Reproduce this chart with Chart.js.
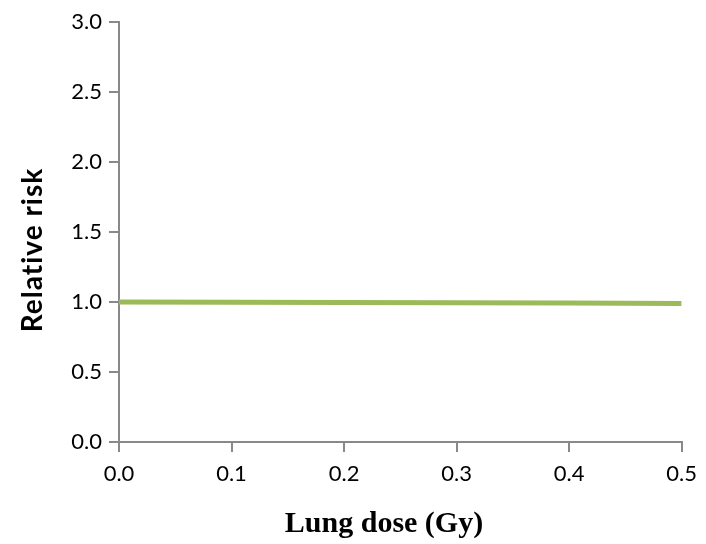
<!DOCTYPE html>
<html><head><meta charset="utf-8">
<script src="https://cdn.jsdelivr.net/npm/chart.js@4/dist/chart.umd.min.js"></script>
<style>html,body{margin:0;padding:0;background:#fff}#wrap{width:706px;height:544px}</style>
</head><body><div id="wrap"><canvas id="c" width="706" height="544"></canvas></div>
<script>
const doses = [0.0, 0.1, 0.2, 0.3, 0.4, 0.5];
const relativeRisk = [1.0, 0.998, 0.996, 0.994, 0.992, 0.99];
const xTitle = 'Lung dose (Gy)';
const yTitle = 'Relative risk';

const axisGray = '#898989';

const titlesPlugin = {
  id: 'titles',
  afterDraw(chart) {
    const ctx = chart.ctx;
    ctx.save();
    ctx.fillStyle = '#000';
    ctx.font = 'bold 30px "Liberation Serif"';
    ctx.textAlign = 'center';
    ctx.textBaseline = 'alphabetic';
    ctx.fillText(xTitle, 384, 532);
    ctx.translate(42, 250);
    ctx.rotate(-Math.PI / 2);
    ctx.font = 'bold 28px Lato';
    try { ctx.letterSpacing = '1px'; } catch (e) {}
    ctx.fillText(yTitle, 0, 0);
    ctx.restore();
  }
};

new Chart(document.getElementById('c'), {
  type: 'line',
  data: {
    datasets: [{
      data: doses.map((d, i) => ({x: d, y: relativeRisk[i]})),
      borderColor: '#9BBB59',
      borderWidth: 5,
      pointRadius: 0,
      tension: 0,
      fill: false
    }]
  },
  options: {
    responsive: false,
    animation: false,
    devicePixelRatio: 1,
    layout: {padding: {left: 0, right: 19, top: 22, bottom: 0}},
    plugins: {legend: {display: false}, tooltip: {enabled: false}},
    scales: {
      x: {
        type: 'linear', min: 0, max: 0.5,
        afterFit: s => { s.height = 544 - 442; },
        ticks: {stepSize: 0.1, color: '#000', font: {family: 'Lato', size: 22}, padding: 9, maxRotation: 0,
          callback: v => v.toFixed(1)},
        grid: {drawOnChartArea: false, tickLength: 10, color: axisGray, lineWidth: 2},
        border: {color: axisGray, width: 2},
        title: {display: false}
      },
      y: {
        min: 0, max: 3,
        afterFit: s => { s.width = 119; },
        ticks: {stepSize: 0.5, color: '#000', font: {family: 'Lato', size: 22}, padding: 7,
          callback: v => v.toFixed(1)},
        grid: {drawOnChartArea: false, tickLength: 10, color: axisGray, lineWidth: 2},
        border: {color: axisGray, width: 2},
        title: {display: false}
      }
    }
  },
  plugins: [titlesPlugin]
});
</script></body></html>
